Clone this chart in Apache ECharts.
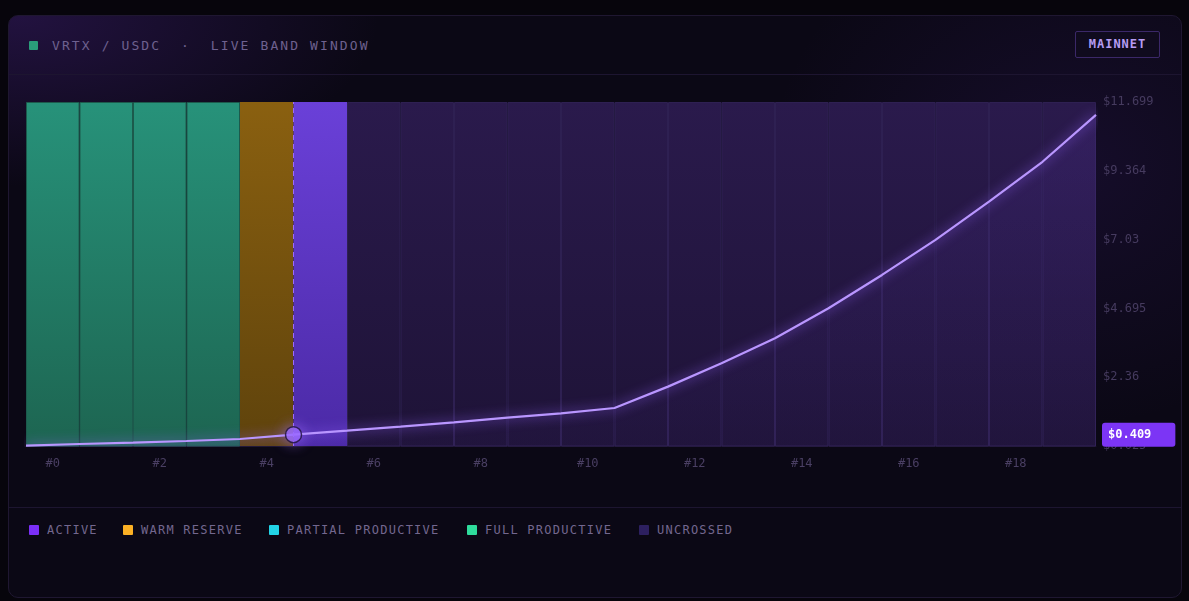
<!DOCTYPE html>
<html><head><meta charset="utf-8">
<script src="https://cdn.jsdelivr.net/npm/echarts@6/dist/echarts.min.js"></script>
<style>
html,body{margin:0;padding:0;background:#07050c;width:1189px;height:601px;overflow:hidden;font-family:"DejaVu Sans Mono",monospace;}
#card{position:absolute;left:8px;top:15px;width:1172px;height:581px;border:1px solid #1f1731;border-radius:10px;
background:radial-gradient(ellipse 360px 170px at 10px 0px, rgba(62,30,115,0.45), rgba(62,30,115,0) 100%),
radial-gradient(ellipse 300px 260px at 1060px 150px, rgba(70,35,140,0.18), rgba(70,35,140,0) 100%), #0b0815;}
.sep{position:absolute;left:9px;width:1172px;height:1px;background:#1d1530;}
#title{position:absolute;left:52px;top:38px;font-size:13px;line-height:16px;letter-spacing:2.1px;color:#6e618f;white-space:pre;}
#mark{position:absolute;left:29px;top:41px;width:9px;height:9px;background:#2a9d7a;border-radius:1px;}
#badge{position:absolute;left:1075px;top:31px;width:83px;height:25px;border:1px solid #3b2868;border-radius:2px;background:#100b1e;
color:#b69cf2;font-size:12px;font-weight:bold;letter-spacing:1px;line-height:25px;text-align:center;}
.lg{position:absolute;top:523px;font-size:12px;line-height:14px;letter-spacing:1.25px;color:#73678f;white-space:pre;}
.sq{position:absolute;top:525px;width:10px;height:10px;border-radius:1px;}
#chart{position:absolute;left:0;top:0;width:1189px;height:601px;}
</style></head>
<body>
<div id="card"></div>
<div class="sep" style="top:74px"></div>
<div class="sep" style="top:507px"></div>
<div id="mark"></div>
<div id="title">VRTX / USDC  ·  LIVE BAND WINDOW</div>
<div id="badge">MAINNET</div>
<div id="legend"></div>
<div id="chart"></div>
<script>
// ---- data ----
const bandLabels = ['#0','#1','#2','#3','#4','#5','#6','#7','#8','#9','#10','#11','#12','#13','#14','#15','#16','#17','#18','#19'];
const bandStates = ['full','full','full','full','warm','active','uncrossed','uncrossed','uncrossed','uncrossed','uncrossed','uncrossed','uncrossed','uncrossed','uncrossed','uncrossed','uncrossed','uncrossed','uncrossed','uncrossed'];
const edgeIndex = [0,1,2,3,4,5,6,7,8,9,10,11,12,13,14,15,16,17,18,19,20];
const priceCurve = [0.035,0.093,0.137,0.195,0.263,0.409,0.544,0.68,0.829,0.985,1.135,1.315,2.04,2.83,3.68,4.70,5.83,7.02,8.32,9.67,11.26];
const yTicks = [0.025,2.36,4.695,7.03,9.364,11.699];
const activeEdge = 5;
const activePrice = 0.409;
const legendNames = ['ACTIVE','WARM RESERVE','PARTIAL PRODUCTIVE','FULL PRODUCTIVE','UNCROSSED'];
const legendColors = ['#7b2ff7','#fbb024','#22d3e6','#2fdc9c','#2d2060'];

// ---- styles ----
const yMin = yTicks[0], yMax = yTicks[yTicks.length-1];
const G = (a,b)=>new echarts.graphic.LinearGradient(0,0,0,1,[{offset:0,color:a},{offset:1,color:b}]);
const stateStyle = {
  full:{color:G('#27927a','#1d6551'),borderColor:'#1c5a4c',borderWidth:1},
  warm:{color:G('#8a6010','#5f430c'),borderWidth:0},
  active:{color:G('#6a40d8','#4b2aa6'),borderWidth:0},
  uncrossed:{color:G('#2a1a4c','#1e1337'),borderColor:'#2e2052',borderWidth:1}
};

// legend (html)
const lgPos = [[29,47],[123,141],[269,287],[467,485],[639,657]];
const lg = document.getElementById('legend');
legendNames.forEach((n,i)=>{
  const s=document.createElement('div');s.className='sq';s.style.left=lgPos[i][0]+'px';s.style.background=legendColors[i];lg.appendChild(s);
  const t=document.createElement('div');t.className='lg';t.style.left=lgPos[i][1]+'px';t.textContent=n;lg.appendChild(t);
});

const chart = echarts.init(document.getElementById('chart'), null, {renderer:'canvas'});
const mono = '"DejaVu Sans Mono", monospace';
chart.setOption({
  backgroundColor:'transparent',
  animation:false,
  grid:{left:26,right:93,top:102,bottom:155},
  xAxis:[
    {type:'category',data:bandLabels,boundaryGap:true,
     axisLine:{show:true,lineStyle:{color:'#1c1530'}},axisTick:{show:false},splitLine:{show:false},
     axisLabel:{interval:1,color:'#4a3f63',fontFamily:mono,fontSize:12,margin:12}},
    {type:'value',min:0,max:20,show:false}
  ],
  yAxis:{type:'value',position:'right',min:yMin,max:yMax,
    axisLine:{show:false},axisTick:{show:false},splitLine:{show:false},
    axisLabel:{customValues:yTicks,formatter:v=>'$'+v,color:'#463b5f',fontFamily:mono,fontSize:12,margin:7,padding:[5,0,0,0]}},
  series:[
    {type:'bar',xAxisIndex:0,barWidth:'100%',barCategoryGap:0,clip:true,z:1,silent:true,
     data:bandStates.map(s=>({value:yMax,itemStyle:stateStyle[s]}))},
    {type:'line',xAxisIndex:1,data:edgeIndex.map((e,i)=>[e,priceCurve[i]]),symbol:'none',z:3,
     lineStyle:{color:'#b996ff',width:2.2,shadowBlur:12,shadowColor:'rgba(150,100,255,1)'},
     areaStyle:{color:new echarts.graphic.LinearGradient(0,0,0,1,[{offset:0,color:'rgba(130,80,255,0.16)'},{offset:1,color:'rgba(130,80,255,0.04)'}])}},
    {type:'scatter',xAxisIndex:1,data:[[activeEdge,activePrice]],symbol:'circle',symbolSize:16,z:5,
     itemStyle:{color:'#9a6aff',borderColor:'#1a0f33',borderWidth:1.5,shadowBlur:14,shadowColor:'rgba(160,110,255,0.8)'},
     markLine:{silent:true,symbol:'none',animation:false,
       data:[
         {xAxis:activeEdge,lineStyle:{color:'#9d6bff',type:[5,4],width:1},label:{show:false}},
         {yAxis:activePrice,lineStyle:{color:'rgba(0,0,0,0)',width:1},
          label:{show:true,position:'end',distance:6,formatter:'$'+activePrice,backgroundColor:'#7c35f5',color:'#ffffff',
                 fontWeight:'bold',fontFamily:mono,fontSize:12,lineHeight:14,padding:[5,24,5,6],borderRadius:3}}
       ]}}
  ]
});
</script>
</body></html>
